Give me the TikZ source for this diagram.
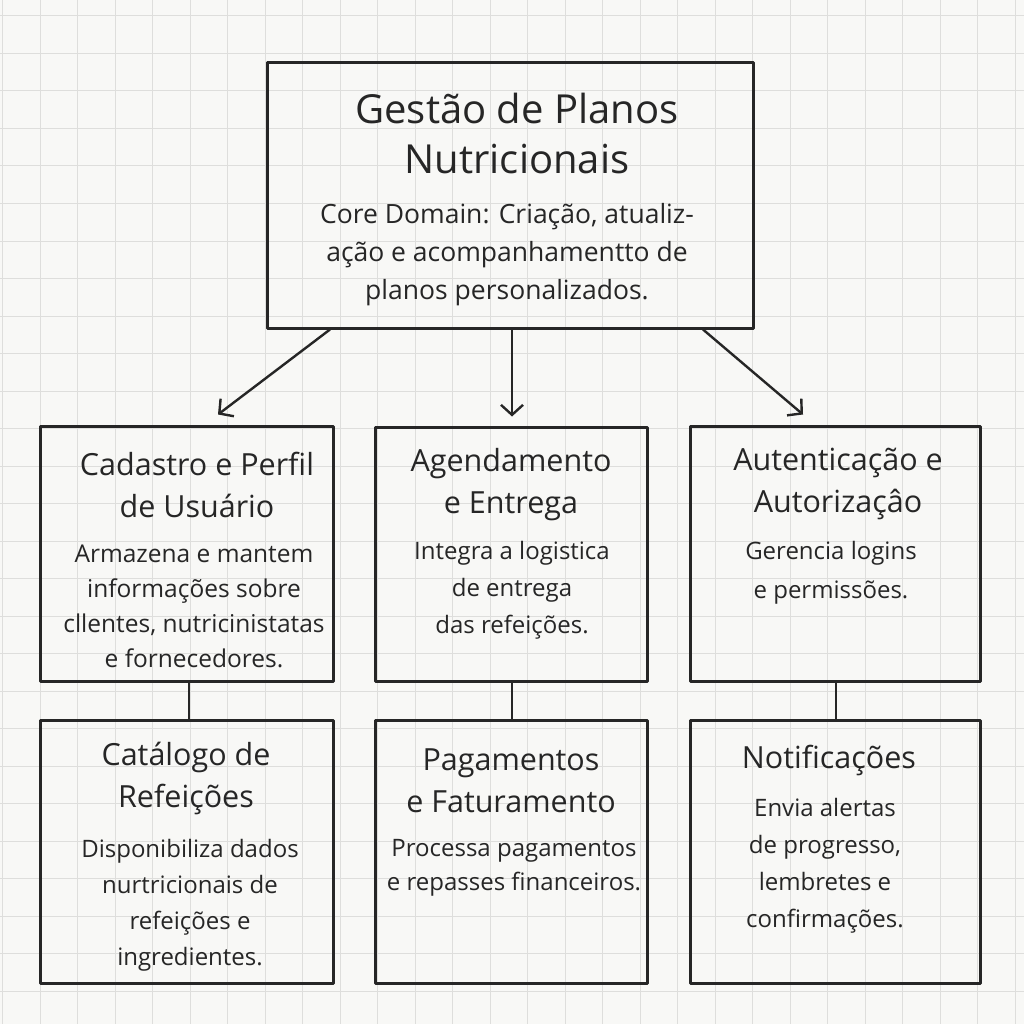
\documentclass[tikz,border=0pt]{standalone}
\usepackage{fontspec}
\setmainfont{Open Sans}
\usetikzlibrary{arrows.meta}
\definecolor{bgc}{HTML}{F8F8F6}
\definecolor{gridc}{HTML}{DEDEDC}
\definecolor{ink}{HTML}{262626}
\tikzset{
  box/.style={draw=ink, line width=3pt, line join=round, rectangle, inner sep=0pt},
  ttl/.style={text=ink, align=center, font=\fontsize{30.5}{42}\selectfont},
  bigttl/.style={text=ink, align=center, font=\fontsize{40}{50}\selectfont},
  body/.style={text=ink, align=center},
  conn/.style={draw=ink, line width=2.4pt},
  arr/.style={draw=ink, line width=2.4pt, -{Straight Barb[length=10pt,width=22pt,line width=2.4pt]}},
  gridline/.style={draw=gridc, line width=1pt}
}
\begin{document}
\begin{tikzpicture}[x=1pt,y=-1pt]
\useasboundingbox (0,0) rectangle (1024,1024);
\fill[bgc] (0,0) rectangle (1024,1024);
\foreach \i in {0,...,27} {
  \draw[gridline] (2.5+37.5*\i,0) -- (2.5+37.5*\i,1024);
  \draw[gridline] (0,16+37.5*\i) -- (1024,16+37.5*\i);
}
% boxes
\node[box, minimum width=486pt, minimum height=265pt] (top) at (510,195.5) {};
\node[box, minimum width=293pt, minimum height=255pt] (cad) at (186.5,553.5) {};
\node[box, minimum width=272pt, minimum height=254pt] (age) at (511,554) {};
\node[box, minimum width=290pt, minimum height=255pt] (aut) at (835,553.5) {};
\node[box, minimum width=293pt, minimum height=263pt] (cat) at (186.5,851.5) {};
\node[box, minimum width=272pt, minimum height=263pt] (pag) at (511,851.5) {};
\node[box, minimum width=290pt, minimum height=263pt] (not) at (835,851.5) {};
% texts
\node[bigttl] (topT) at (517,134) {Gestão de Planos\\Nutricionais};
\node[body, font=\fontsize{26.5}{38}\selectfont] (topB) at (507,255) {Core Domain: Criação, atualiz-\\ação e acompanhamentto de\\planos personalizados.};
\node[ttl] (cadT) at (197,485) {Cadastro e Perfil\\de Usuário};
\node[body, font=\fontsize{24.5}{35}\selectfont] (cadB) at (194,606) {Armazena e mantem\\informações sobre\\cllentes, nutricinistatas\\e fornecedores.};
\node[ttl] (ageT) at (511,485) {Agendamento\\e Entrega};
\node[body, font=\fontsize{24}{37}\selectfont] (ageB) at (512,590) {Integra a logistica\\de entrega\\das refeições.};
\node[ttl] (autT) at (838,484) {Autenticação e\\Autorizaçâo};
\node[body, font=\fontsize{24}{39}\selectfont] (autB) at (831,572.5) {Gerencia logins\\e permissões.};
\node[ttl] (catT) at (186,778.5) {Catálogo de\\Refeições};
\node[body, font=\fontsize{24}{36}\selectfont] (catB) at (190,905.5) {Disponibiliza dados\\nurtricionais de\\refeições e\\ingredientes.};
\node[ttl] (pagT) at (511,781) {Pagamentos\\e Faturamento};
\node[body, font=\fontsize{24}{34}\selectfont] (pagB) at (514,868) {Processa pagamentos\\e repasses financeiros.};
\node[ttl] (notT) at (829,760) {Notificações};
\node[body, font=\fontsize{24}{37}\selectfont] (notB) at (825,865.5) {Envia alertas\\de progresso,\\lembretes e\\confirmações.};
% arrows
\draw[arr] ([xshift=-180pt]top.south) -- ([xshift=31.5pt,yshift=10pt]cad.north);
\draw[arr] ([xshift=2pt]top.south) -- ([xshift=1pt,yshift=9pt]age.north);
\draw[arr] ([xshift=193pt]top.south) -- ([xshift=-32pt,yshift=10pt]aut.north);
% vertical connectors
\draw[conn] ([xshift=2.5pt]cad.south) -- ([xshift=2.5pt]cat.north);
\draw[conn] ([xshift=1pt]age.south) -- ([xshift=1pt]pag.north);
\draw[conn] ([xshift=1pt]aut.south) -- ([xshift=1pt]not.north);
\end{tikzpicture}
\end{document}
